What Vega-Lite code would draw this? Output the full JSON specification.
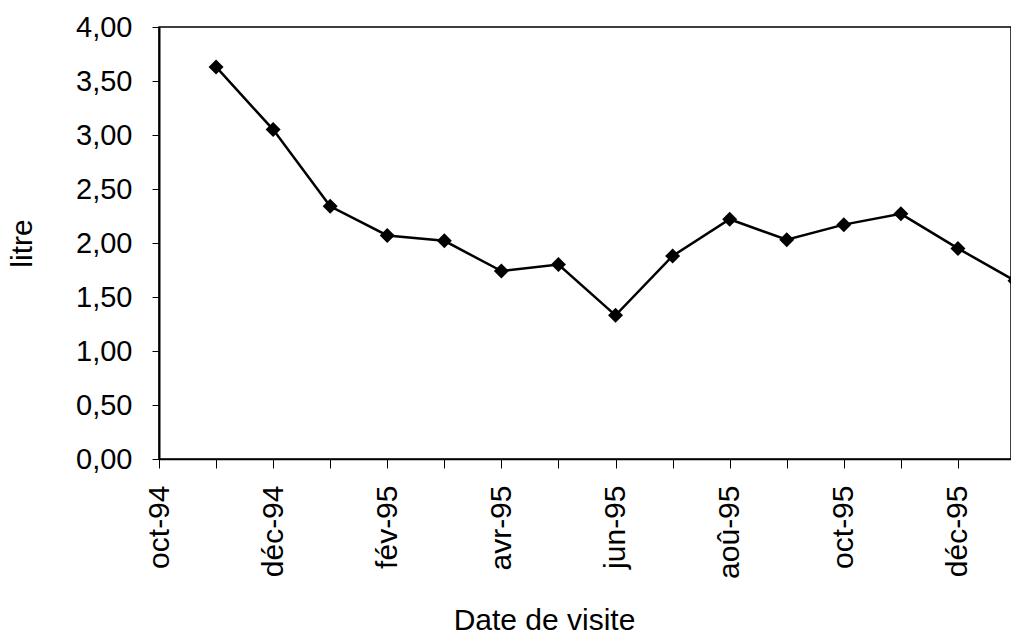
{
  "$schema": "https://vega.github.io/schema/vega-lite/v6.json",
  "autosize": {"type": "none"},
  "width": 852,
  "height": 432,
  "padding": {"left": 159, "top": 27, "right": 0, "bottom": 178},
  "background": "white",
  "config": {
    "view": {"stroke": "black", "strokeWidth": 1.5},
    "font": "Liberation Sans"
  },
  "data": {
    "values": [
      {"mois": "nov-94", "litre": 3.63},
      {"mois": "déc-94", "litre": 3.05},
      {"mois": "jan-95", "litre": 2.34},
      {"mois": "fév-95", "litre": 2.07},
      {"mois": "mar-95", "litre": 2.02},
      {"mois": "avr-95", "litre": 1.74},
      {"mois": "mai-95", "litre": 1.80},
      {"mois": "jun-95", "litre": 1.33},
      {"mois": "jul-95", "litre": 1.88},
      {"mois": "aoû-95", "litre": 2.22},
      {"mois": "sep-95", "litre": 2.03},
      {"mois": "oct-95", "litre": 2.17},
      {"mois": "nov-95", "litre": 2.27},
      {"mois": "déc-95", "litre": 1.95},
      {"mois": "jan-96", "litre": 1.65}
    ]
  },
  "encoding": {
    "x": {
      "field": "mois",
      "type": "ordinal",
      "sort": ["oct-94","nov-94","déc-94","jan-95","fév-95","mar-95","avr-95","mai-95","jun-95","jul-95","aoû-95","sep-95","oct-95","nov-95","déc-95","jan-96"],
      "scale": {
        "type": "point",
        "domain": ["oct-94","nov-94","déc-94","jan-95","fév-95","mar-95","avr-95","mai-95","jun-95","jul-95","aoû-95","sep-95","oct-95","nov-95","déc-95","jan-96"],
        "padding": 0,
        "range": [0, 856]
      },
      "axis": {
        "title": "Date de visite",
        "labelAngle": -90,
        "labelAlign": "right",
        "labelBaseline": "middle",
        "labelFontSize": 30,
        "labelPadding": 17,
        "labelOverlap": false,
        "labelColor": "black",
        "labelExpr": "indexof(['oct-94','déc-94','fév-95','avr-95','jun-95','aoû-95','oct-95','déc-95'], datum.value) >= 0 ? datum.value : ''",
        "tickSize": 9,
        "tickColor": "black",
        "tickWidth": 1,
        "domainColor": "black",
        "domainWidth": 1.5,
        "titleFontSize": 30,
        "titleFontWeight": "normal",
        "titleColor": "black",
        "titleX": 385,
        "titleY": 170,
        "titleAlign": "center",
        "titleBaseline": "alphabetic"
      }
    },
    "y": {
      "field": "litre",
      "type": "quantitative",
      "scale": {"domain": [0, 4], "nice": false, "zero": true},
      "axis": {
        "title": "litre",
        "values": [0, 0.5, 1, 1.5, 2, 2.5, 3, 3.5, 4],
        "labelExpr": "replace(format(datum.value, '.2f'), '.', ',')",
        "labelFontSize": 29,
        "labelPadding": 20,
        "labelColor": "black",
        "tickSize": 7,
        "tickColor": "black",
        "domainColor": "black",
        "domainWidth": 2,
        "grid": false,
        "titleFontSize": 30,
        "titleFontWeight": "normal",
        "titleColor": "black",
        "titleAngle": -90,
        "titleX": -137,
        "titleY": 216,
        "titleAlign": "center",
        "titleBaseline": "middle"
      }
    }
  },
  "layer": [
    {"mark": {"type": "line", "color": "black", "strokeWidth": 2.5}},
    {"mark": {"type": "point", "shape": "diamond", "filled": true, "color": "black", "size": 225, "opacity": 1}}
  ]
}
